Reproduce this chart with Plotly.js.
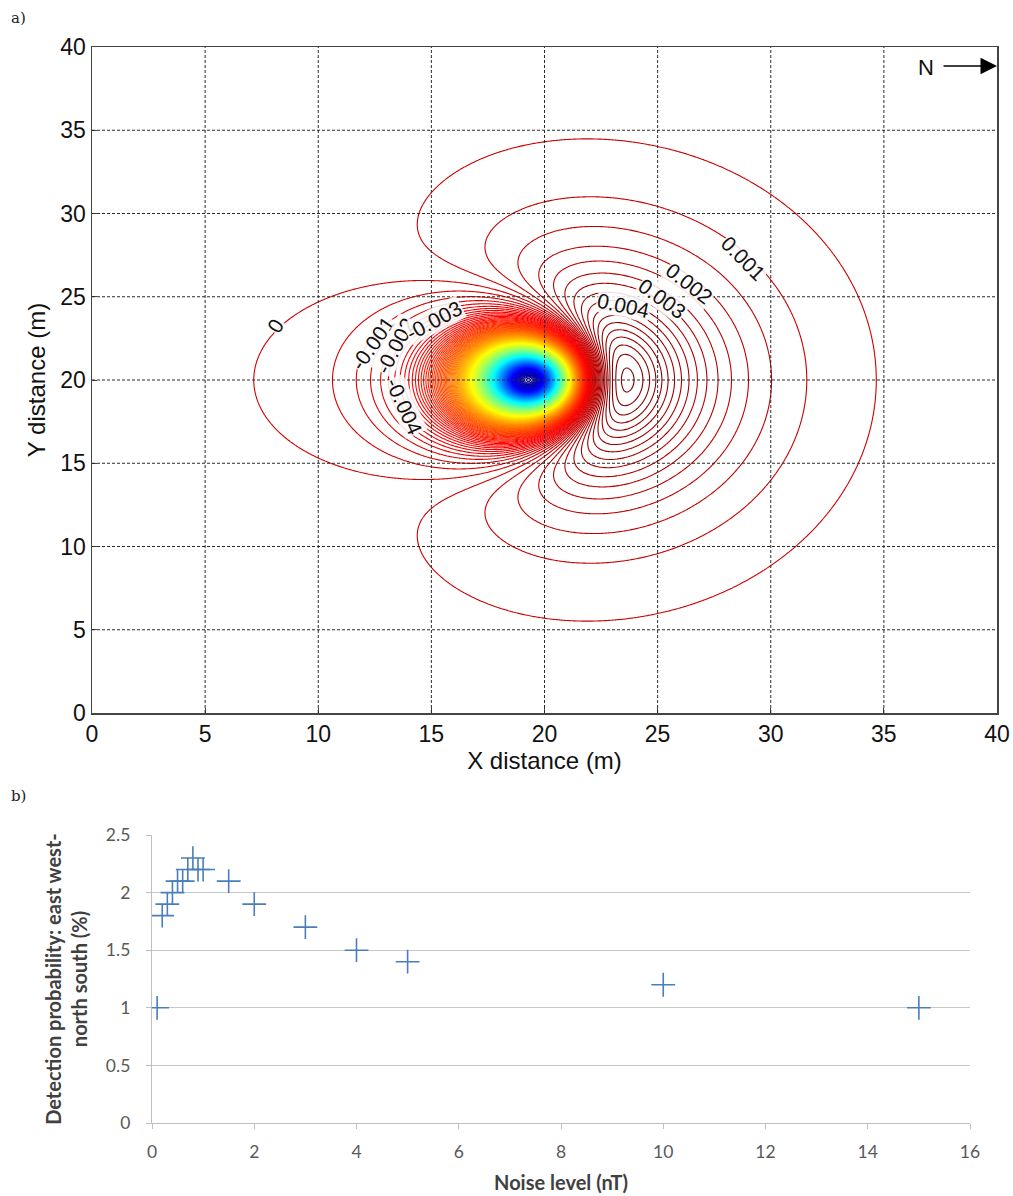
<!DOCTYPE html>
<html>
<head>
<meta charset="utf-8">
<script src="https://cdn.plot.ly/plotly-3.0.1.min.js"></script>
<style>
  html, body { margin: 0; padding: 0; background: #ffffff; }
  #chart { width: 1013px; height: 1196px; }
</style>
</head>
<body>
<div id="chart"></div>
<script>
// ---------- Panel a) : dipole anomaly map (parameters estimated from the picture) ----------
const sourceX = 19.9;          // m, position of the buried dipole (X)
const sourceY = 20.0;          // m, position of the buried dipole (Y)
const sourceDepth = 3.36;      // m
const inclinationDeg = 69.5;   // field inclination
const momentScale = 1.834;     // amplitude, reversed magnetisation
const contourStep = 0.0005;    // level spacing
const gridStep = 0.1;          // m
const xRange = [0, 40];
const yRange = [0, 40];
const gridVals = [5, 10, 15, 20, 25, 30, 35];

// contour label annotations (text, X, Y, angle)
const labelText  = ['0', '-0.001', '-0.002', '-0.003', '-0.004', '0.004', '0.003', '0.002', '0.001'];
const labelX     = [8.1, 12.4, 13.4, 15.1, 13.8, 23.5, 25.2, 26.4, 28.8];
const labelY     = [23.3, 22.2, 22.1, 23.6, 18.4, 24.5, 24.9, 25.8, 27.3];
const labelAngle = [-57, -55, -62, -28, 66, 12, 36, 38, 45];

// ---------- Panel b) : detection probability vs noise ----------
const noiseLevel = [0.1, 0.2, 0.3, 0.4, 0.5, 0.6, 0.7, 0.8, 0.9, 1.0, 1.5, 2, 3, 4, 5, 10, 15];
const detectionProb = [1.0, 1.8, 1.9, 2.0, 2.1, 2.1, 2.2, 2.3, 2.2, 2.2, 2.1, 1.9, 1.7, 1.5, 1.4, 1.2, 1.0];

// ---------- build field grid ----------
const xs = [], ys = [];
for (let v = xRange[0]; v <= xRange[1] + 1e-9; v += gridStep) xs.push(+v.toFixed(3));
for (let v = yRange[0]; v <= yRange[1] + 1e-9; v += gridStep) ys.push(+v.toFixed(3));
const inc = inclinationDeg * Math.PI / 180;
const fc = Math.cos(inc), fs = Math.sin(inc);
let zMin = Infinity, zMax = -Infinity;
const zGrid = ys.map(function (y) {
  return xs.map(function (x) {
    const rx = x - sourceX, ry = y - sourceY, rz = -sourceDepth;
    const r2 = rx * rx + ry * ry + rz * rz;
    const fr = fc * rx + fs * rz;
    const v = -momentScale * (3 * fr * fr - r2) / Math.pow(r2, 2.5);
    if (v < zMin) zMin = v;
    if (v > zMax) zMax = v;
    return v;
  });
});
const levStart = Math.ceil(zMin / contourStep) * contourStep;
const levEnd = Math.floor(zMax / contourStep) * contourStep;

const jet = [
  [0.0, 'rgb(0,0,143)'], [0.11, 'rgb(0,0,255)'], [0.36, 'rgb(0,255,255)'],
  [0.61, 'rgb(255,255,0)'], [0.86, 'rgb(255,0,0)'], [1.0, 'rgb(128,0,0)']
];

const contourTrace = {
  type: 'contour', x: xs, y: ys, z: zGrid,
  xaxis: 'x', yaxis: 'y',
  autocontour: false,
  contours: { coloring: 'lines', start: levStart, end: levEnd, size: contourStep, showlabels: false },
  line: { width: 1.1, smoothing: 0.6 },
  colorscale: jet, zauto: false, zmin: levStart, zmax: levEnd,
  showscale: false, hoverinfo: 'skip'
};

const scatterTrace = {
  type: 'scatter', mode: 'markers', x: noiseLevel, y: detectionProb,
  xaxis: 'x2', yaxis: 'y2',
  marker: { symbol: 'cross-thin', size: 17, color: '#4a7ebb', line: { width: 1.6, color: '#4a7ebb' } },
  hoverinfo: 'skip', showlegend: false
};

// grid lines drawn above the contours (as in the original)
const shapes = [];
gridVals.forEach(function (v) {
  shapes.push({ type: 'line', xref: 'x', yref: 'y', x0: v, x1: v, y0: yRange[0], y1: yRange[1], layer: 'above',
    line: { color: '#2a2a2a', width: 1, dash: '3px,2px' } });
  shapes.push({ type: 'line', xref: 'x', yref: 'y', x0: xRange[0], x1: xRange[1], y0: v, y1: v, layer: 'above',
    line: { color: '#2a2a2a', width: 1, dash: '3px,2px' } });
});

const sans = 'Liberation Sans, Arial, sans-serif';
const annotations = [];
labelText.forEach(function (t, i) {
  annotations.push({ xref: 'x', yref: 'y', x: labelX[i], y: labelY[i], text: t, showarrow: false,
    textangle: labelAngle[i], bgcolor: 'rgba(255,255,255,0.85)', borderpad: 0,
    font: { family: sans, size: 21, color: '#111' } });
});
annotations.push({ xref: 'paper', yref: 'paper', x: 926 / 1013, y: 1 - 67 / 1196, xanchor: 'center', yanchor: 'middle',
  text: 'N', showarrow: false, font: { family: sans, size: 22, color: '#111' } });
annotations.push({ xref: 'x', yref: 'y', x: 40, y: 38.86, ax: -55, ay: 0, text: '', showarrow: true,
  arrowhead: 2, arrowsize: 2.2, arrowwidth: 1.5, arrowcolor: '#000' });
annotations.push({ xref: 'paper', yref: 'paper', x: 9 / 1013, y: 1 - 18 / 1196, xanchor: 'left', yanchor: 'middle',
  text: 'a)', showarrow: false, font: { family: 'DejaVu Serif, Liberation Serif, serif', size: 15, color: '#222' } });
annotations.push({ xref: 'paper', yref: 'paper', x: 9 / 1013, y: 1 - 796 / 1196, xanchor: 'left', yanchor: 'middle',
  text: 'b)', showarrow: false, font: { family: 'DejaVu Serif, Liberation Serif, serif', size: 15, color: '#222' } });

const tickFontTop = { family: sans, size: 23, color: '#111' };
const titleFontTop = { family: sans, size: 24, color: '#111' };
const botFont = { family: 'Lato, Liberation Sans, sans-serif', size: 17.5, color: '#595959' };
const botTitleFont = { family: 'Lato, Liberation Sans, sans-serif', size: 20, color: '#404040' };

const layout = {
  width: 1013, height: 1196,
  margin: { l: 0, r: 0, t: 0, b: 0 },
  paper_bgcolor: '#ffffff', plot_bgcolor: '#ffffff',
  showlegend: false,
  xaxis: {
    domain: [92 / 1013, 997 / 1013], anchor: 'y', range: xRange, dtick: 5, tick0: 0,
    showgrid: false, zeroline: false, showline: true, mirror: true, linecolor: '#444', linewidth: 1.5,
    ticks: 'inside', ticklen: 5, tickcolor: '#444', tickfont: tickFontTop,
    title: { text: 'X distance (m)', font: titleFontTop, standoff: 6 }
  },
  yaxis: {
    domain: [(1196 - 713) / 1196, (1196 - 47) / 1196], anchor: 'x', range: yRange, dtick: 5, tick0: 0,
    showgrid: false, zeroline: false, showline: true, mirror: true, linecolor: '#444', linewidth: 1.5,
    ticks: 'inside', ticklen: 5, tickcolor: '#444', tickfont: tickFontTop,
    title: { text: 'Y distance (m)', font: titleFontTop, standoff: 8 }
  },
  xaxis2: {
    domain: [152 / 1013, 970 / 1013], anchor: 'y2', range: [0, 16], dtick: 2, tick0: 0,
    showgrid: false, zeroline: false, showline: true, linecolor: '#bfbfbf', linewidth: 1.2,
    ticks: 'outside', ticklen: 5, tickcolor: '#bfbfbf', tickfont: botFont, ticklabelstandoff: 8,
    title: { text: '<b>Noise level (nT)</b>', font: botTitleFont, standoff: 14 }
  },
  yaxis2: {
    domain: [73 / 1196, 361 / 1196], anchor: 'x2', range: [0, 2.5], dtick: 0.5, tick0: 0,
    showgrid: true, gridcolor: '#c8c8c8', gridwidth: 1.2, zeroline: false,
    showline: true, linecolor: '#bfbfbf', linewidth: 1.2,
    ticks: 'outside', ticklen: 5, tickcolor: '#bfbfbf', tickfont: botFont, ticklabelstandoff: 12,
    title: { text: '<b>Detection probability: east west-<br>north south (%)</b>', font: botTitleFont, standoff: 12 }
  },
  shapes: shapes,
  annotations: annotations
};

Plotly.newPlot('chart', [contourTrace, scatterTrace], layout, { staticPlot: true, displayModeBar: false });
</script>
</body>
</html>
